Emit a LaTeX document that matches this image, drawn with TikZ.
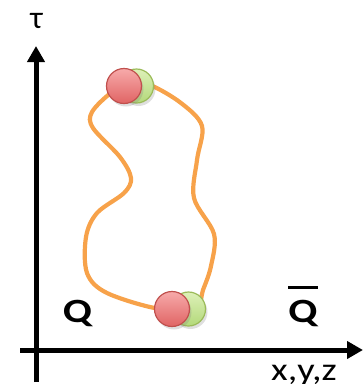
\documentclass[tikz,border=0pt]{standalone}
\usepackage{fontspec}
\setmainfont{Carlito}
\usetikzlibrary{arrows.meta,shadows}
\definecolor{loopor}{HTML}{F7A24A}
\definecolor{redtop}{HTML}{F7AAAA}
\definecolor{redbot}{HTML}{E06464}
\definecolor{redrim}{HTML}{C0504D}
\definecolor{grntop}{HTML}{DDF0B8}
\definecolor{grnbot}{HTML}{B3D97A}
\definecolor{grnrim}{HTML}{9BBB59}
\tikzset{
  axis/.style={line width=5pt, -{Triangle[length=16pt,width=17pt]}},
  loopline/.style={line width=4.2pt, loopor},
  redball/.style={circle, minimum size=35pt, inner sep=0pt, draw=redrim, line width=1.2pt,
     top color=redtop, bottom color=redbot, drop shadow={opacity=0.25, shadow xshift=2pt, shadow yshift=-3pt}},
  grnball/.style={circle, minimum size=34pt, inner sep=0pt, draw=grnrim, line width=1.2pt,
     top color=grntop, bottom color=grnbot, drop shadow={opacity=0.25, shadow xshift=2pt, shadow yshift=-3pt}},
  lbl/.style={font=\fontsize{32}{36}\selectfont, inner sep=0pt},
  blbl/.style={font=\fontsize{34}{38}\selectfont\bfseries, inner sep=0pt}
}
\begin{document}
\begin{tikzpicture}[x=1pt,y=-1pt]
\useasboundingbox (0,0) rectangle (363,384);
% axes
\coordinate (vb) at (36,382);
\coordinate (vt) at (36,46);
\coordinate (hl) at (20,350);
\coordinate (hr) at (363,350);
\draw[axis] (vb) -- (vt);
\draw[axis] (hl) -- (hr);
% labels
\node[lbl] (tau) at (36.5,21) {τ};
\node[lbl, anchor=base] (xyz) at (304,380) {\scalebox{1.2}[1]{x,y,z}};
\node[blbl, anchor=base] (q) at (77.5,322) {\scalebox{1.25}[1]{Q}};
\node[blbl, anchor=base] (qb) at (303,322) {\scalebox{1.25}[1]{Q}};
\draw[line width=3pt] (288,287) -- (318,287);
% loop
\draw[loopline] plot[smooth cycle, tension=0.55] coordinates {
 (112,92) (92,112) (93,128) (120,157) (131,178) (124,193) (97,213) (86,237)
 (87,273) (107,293) (160,309) (196,306) (203,290) (211,266) (214,234)
 (194,198) (197,160) (202,126) (181,103) (150,85) (130,84)};
% quarks
\node[grnball] (g1) at (136.5,86) {};
\node[redball] (r1) at (124,86) {};
\node[grnball] (g2) at (188.5,309) {};
\node[redball] (r2) at (172,309) {};
\end{tikzpicture}
\end{document}
